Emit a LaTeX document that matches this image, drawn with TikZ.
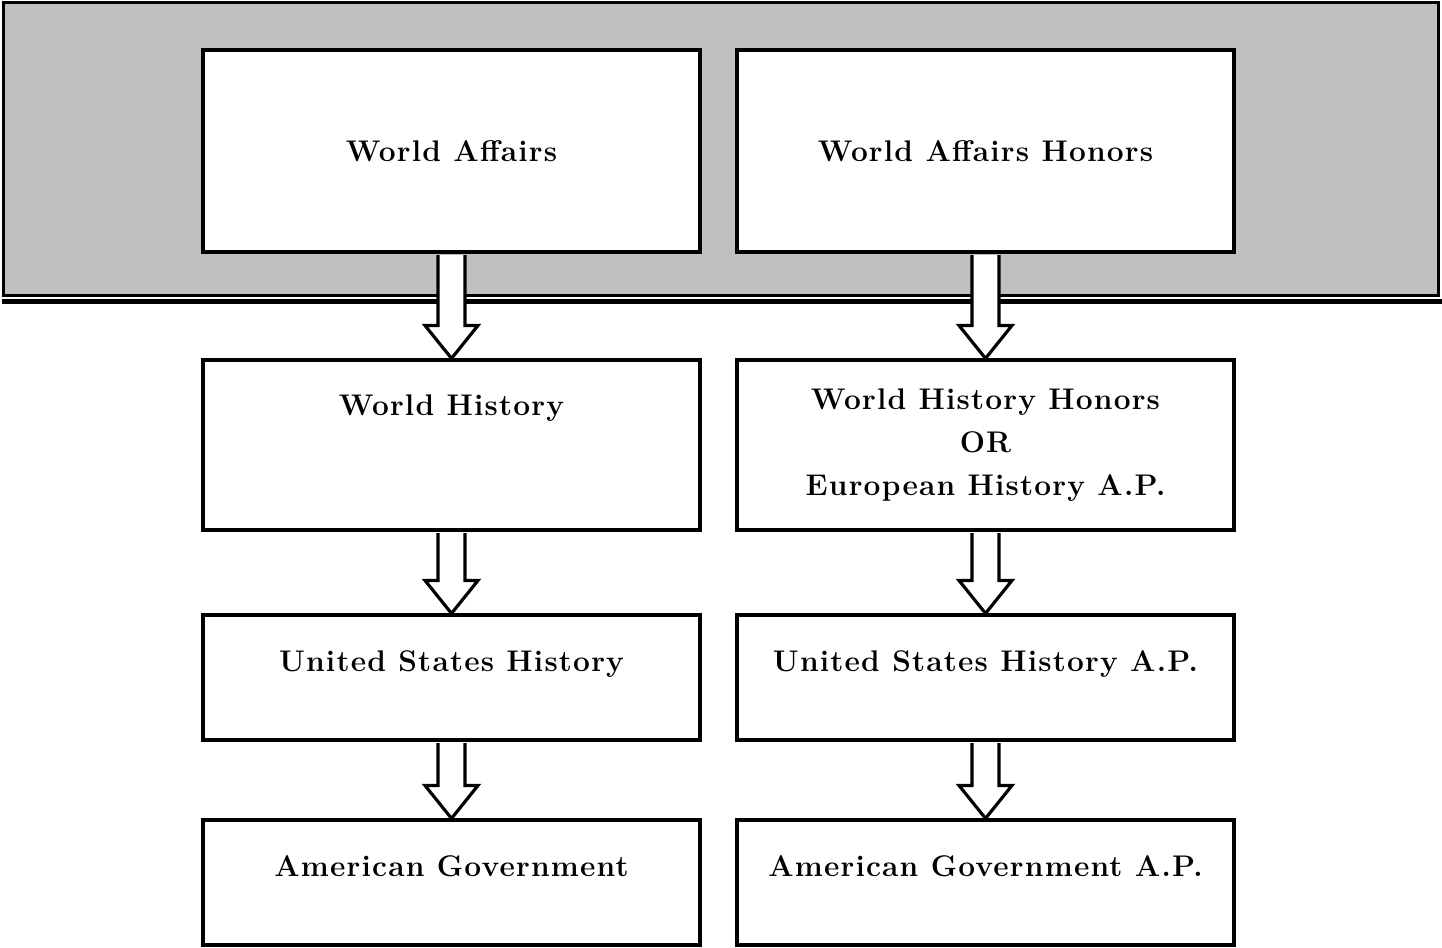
\documentclass[tikz,border=0pt]{standalone}
\usepackage{fontspec}
\usepackage{tikz}
\usetikzlibrary{calc}

\newfontfamily\coursefont{Latin Modern Roman}[LetterSpace=4]
\definecolor{bannergray}{RGB}{192,192,192}
\tikzset{
	course/.style={draw, fill=white, line width=1.8pt, minimum width=9.94cm, align=center, font=\fontsize{17}{24.5}\selectfont\coursefont\bfseries},
	raised/.style={text height=0.5cm, text depth=#1},
}

\begin{document}
\begin{tikzpicture}[x=0.02cm, y=-0.02cm]
			\def\lx{451.5};
			\def\rx{985.5};
			\def\sw{0.27cm};
			\def\hw{0.53cm};
			\def\hl{0.66cm};

			\useasboundingbox (0,0) rectangle (1442,947);

			% banner behind the first year
			\filldraw [fill=bannergray, line width=1.8pt] (3.5,2.5) rectangle (1438.5,295.5);
			\draw [line width=2.5pt] (2,301.5) -- (1442,301.5);

			\node [course, minimum height=4.04cm] (wa) at (\lx,151) {World Affairs};
			\node [course, minimum height=4.04cm] (wah) at (\rx,151) {World Affairs Honors};
			\node [course, minimum height=3.4cm, raised=1.7cm] (wh) at (\lx,445) {World History};
			\node [course, minimum height=3.4cm] (whh) at (\rx,445) {World History Honors\\OR\\European History A.P.};
			\node [course, minimum height=2.5cm, raised=0.74cm] (ush) at (\lx,677.5) {United States History};
			\node [course, minimum height=2.5cm, raised=0.74cm] (usha) at (\rx,677.5) {United States History A.P.};
			\node [course, minimum height=2.5cm, raised=0.74cm] (ag) at (\lx,882.5) {American Government};
			\node [course, minimum height=2.5cm, raised=0.74cm] (aga) at (\rx,882.5) {American Government A.P.};

			\foreach \a/\b in {wa/wh, wh/ush, ush/ag, wah/whh, whh/usha, usha/aga}
				\filldraw [fill=white, line width=1.8pt] let \p1=(\a.south), \p2=(\b.north) in
					(\x1-\sw,\y1-0.9pt) -- (\x1-\sw,\y2+\hl) -- (\x1-\hw,\y2+\hl) -- (\x2,\y2)
					-- (\x1+\hw,\y2+\hl) -- (\x1+\sw,\y2+\hl) -- (\x1+\sw,\y1-0.9pt);
		\end{tikzpicture}
\end{document}
